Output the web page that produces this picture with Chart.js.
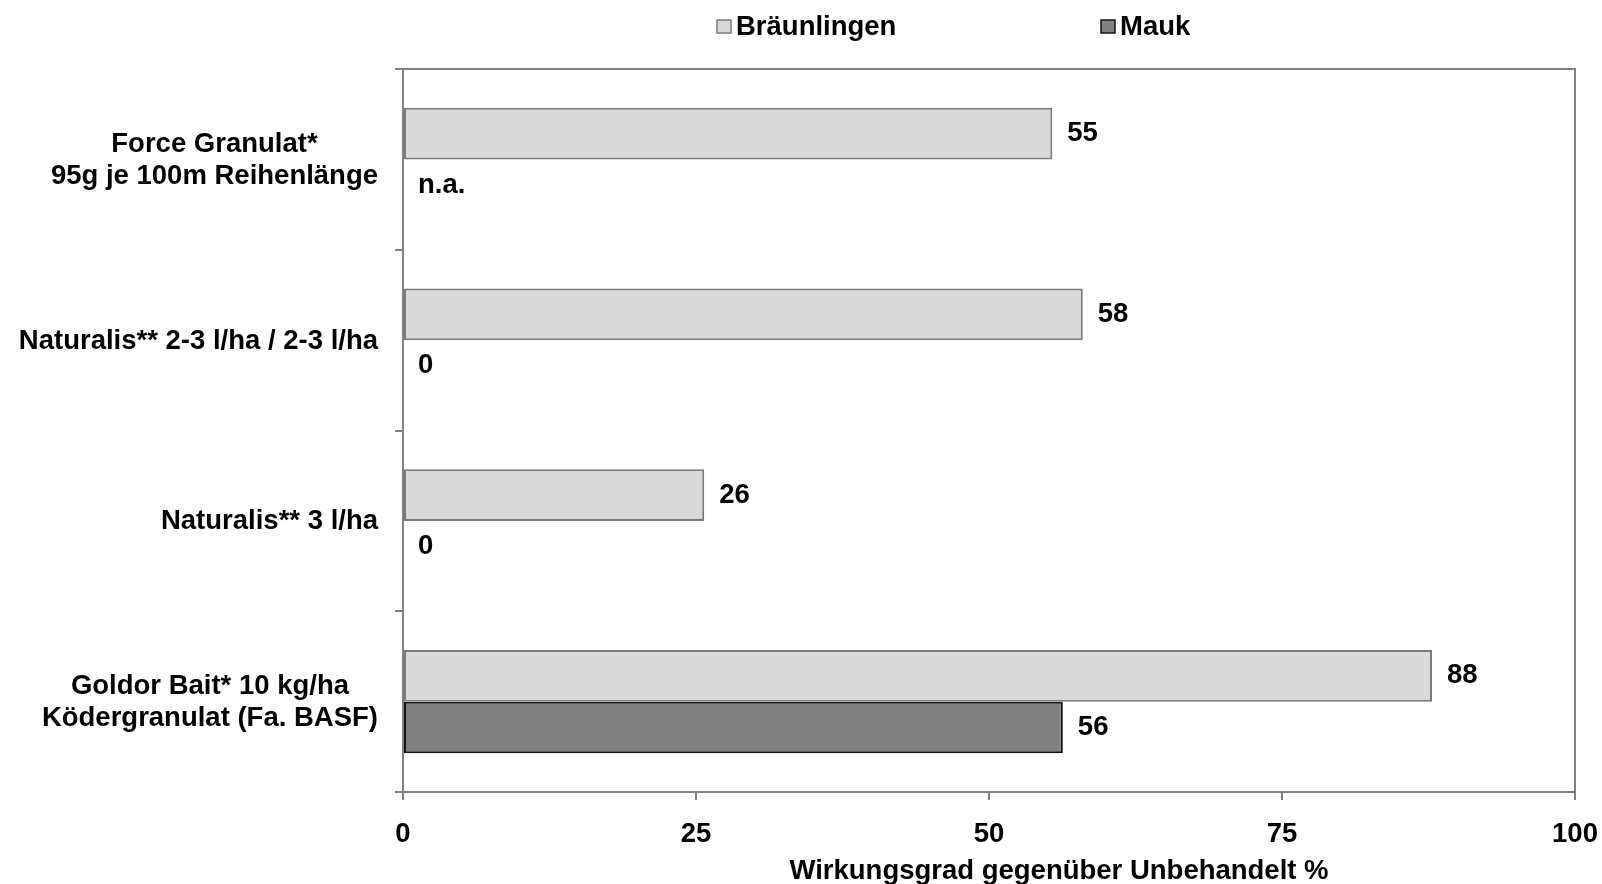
<!DOCTYPE html>
<html lang="de">
<head>
<meta charset="utf-8">
<title>Wirkungsgrad gegenüber Unbehandelt</title>
<script src="https://cdn.jsdelivr.net/npm/chart.js@4.4.1/dist/chart.umd.min.js"></script>
<style>
    html, body { margin: 0; padding: 0; background: #ffffff; }
    #wrap { width: 1602px; height: 884px; }
</style>
</head>
<body>
<div id="wrap"><canvas id="chart" width="1602" height="884"></canvas></div>
<script>
// Daten
const categoryLabels = [
    ['Force Granulat*', '95g je 100m Reihenlänge'],
    ['Naturalis** 2-3 l/ha / 2-3 l/ha'],
    ['Naturalis** 3 l/ha'],
    ['Goldor Bait* 10 kg/ha', 'Ködergranulat (Fa. BASF)']
];
const seriesNames = ['Bräunlingen', 'Mauk'];
const braeunlingenValues = [55.4, 58, 25.7, 87.8];
const maukValues = [null, 0, 0, 56.3];   // null = n.a.
const xTickValues = [0, 25, 50, 75, 100];
const xAxisTitle = 'Wirkungsgrad gegenüber Unbehandelt %';

const FONT = '"Liberation Sans", Arial, sans-serif';
const FONT_SIZE = 27.5;
const AXIS_GRAY = '#808080';

// Rahmen um die Zeichenfläche (oben + rechts)
const framePlugin = {
    id: 'frame',
    beforeDatasetsDraw(chart) {
        const { ctx, chartArea: a } = chart;
        ctx.save();
        ctx.strokeStyle = AXIS_GRAY;
        ctx.lineWidth = 2;
        ctx.strokeRect(a.left, a.top, a.right - a.left, a.bottom - a.top);
        ctx.restore();
    }
};

// Werte neben den Balken, "n.a." bei fehlenden Werten
const valueLabelPlugin = {
    id: 'valueLabels',
    afterDatasetsDraw(chart) {
        const { ctx } = chart;
        const xScale = chart.scales.x;
        ctx.save();
        ctx.font = `bold ${FONT_SIZE}px ${FONT}`;
        ctx.fillStyle = '#000';
        ctx.textAlign = 'left';
        ctx.textBaseline = 'middle';
        chart.data.datasets.forEach((ds, d) => {
            const meta = chart.getDatasetMeta(d);
            meta.data.forEach((bar, i) => {
                const v = ds.data[i];
                const text = v === null ? 'n.a.' : String(Math.round(v));
                const x = (v === null ? xScale.getPixelForValue(0) : bar.x) + 15;
                ctx.fillText(text, x, bar.y);
            });
        });
        ctx.restore();
    }
};

// Kategorienbeschriftung: Block rechtsbündig, Zeilen zentriert
const categoryTextPlugin = {
    id: 'categoryText',
    afterDraw(chart) {
        const { ctx } = chart;
        const yScale = chart.scales.y;
        const lineHeight = 32;
        const right = chart.chartArea.left - 25;
        ctx.save();
        ctx.font = `bold ${FONT_SIZE}px ${FONT}`;
        ctx.fillStyle = '#000';
        ctx.textAlign = 'center';
        ctx.textBaseline = 'middle';
        categoryLabels.forEach((lines, i) => {
            const cy = yScale.getPixelForValue(i);
            const w = Math.max(...lines.map(l => ctx.measureText(l).width));
            const cx = right - w / 2;
            lines.forEach((line, k) => {
                ctx.fillText(line, cx, cy + 1 + (k - (lines.length - 1) / 2) * lineHeight);
            });
        });

        // Achsentitel
        const a = chart.chartArea;
        ctx.fillText(xAxisTitle, (a.left + a.right) / 2 + 70, chart.height - 13);

        // Legende
        let x = 717;
        const ly = 27;
        chart.data.datasets.forEach((ds, d) => {
            ctx.fillStyle = ds.backgroundColor;
            ctx.fillRect(x, ly - 7, 14, 13);
            ctx.strokeStyle = ds.borderColor;
            ctx.lineWidth = 1.5;
            ctx.strokeRect(x, ly - 7, 14, 13);
            ctx.fillStyle = '#000';
            ctx.textAlign = 'left';
            ctx.fillText(ds.label, x + 19, ly);
            x = 1101;
        });
        ctx.restore();
    }
};

const ctx = document.getElementById('chart').getContext('2d');
new Chart(ctx, {
    type: 'bar',
    data: {
        labels: categoryLabels.map(l => l.join(' ')),
        datasets: [
            {
                label: seriesNames[0],
                data: braeunlingenValues,
                backgroundColor: '#d9d9d9',
                borderColor: '#7a7a7a',
                borderWidth: 2,
                borderSkipped: false
            },
            {
                label: seriesNames[1],
                data: maukValues,
                backgroundColor: '#808080',
                borderColor: '#141414',
                borderWidth: 2,
                borderSkipped: false
            }
        ]
    },
    options: {
        indexAxis: 'y',
        responsive: false,
        animation: false,
        events: [],
        categoryPercentage: 0.57,
        barPercentage: 1,
        layout: { padding: { top: 69, right: 27, bottom: 0, left: 0 } },
        plugins: {
            legend: { display: false },
            tooltip: { enabled: false }
        },
        scales: {
            x: {
                type: 'linear',
                min: 0,
                max: 100,
                afterBuildTicks: scale => { scale.ticks = xTickValues.map(v => ({ value: v })); },
                afterFit: scale => { scale.height = 92; scale.paddingRight = 0; },
                border: { display: true, color: AXIS_GRAY, width: 2 },
                grid: { drawOnChartArea: false, drawTicks: true, tickLength: 8, color: AXIS_GRAY, lineWidth: 2 },
                ticks: {
                    padding: 18,
                    color: '#000',
                    font: { family: FONT, size: FONT_SIZE, weight: 'bold' }
                }
            },
            y: {
                afterFit: scale => { scale.width = 403; },
                border: { display: true, color: AXIS_GRAY, width: 2 },
                grid: { offset: true, drawOnChartArea: false, drawTicks: true, tickLength: 8, color: AXIS_GRAY, lineWidth: 2 },
                ticks: { display: false }
            }
        }
    },
    plugins: [framePlugin, valueLabelPlugin, categoryTextPlugin]
});
</script>
</body>
</html>
